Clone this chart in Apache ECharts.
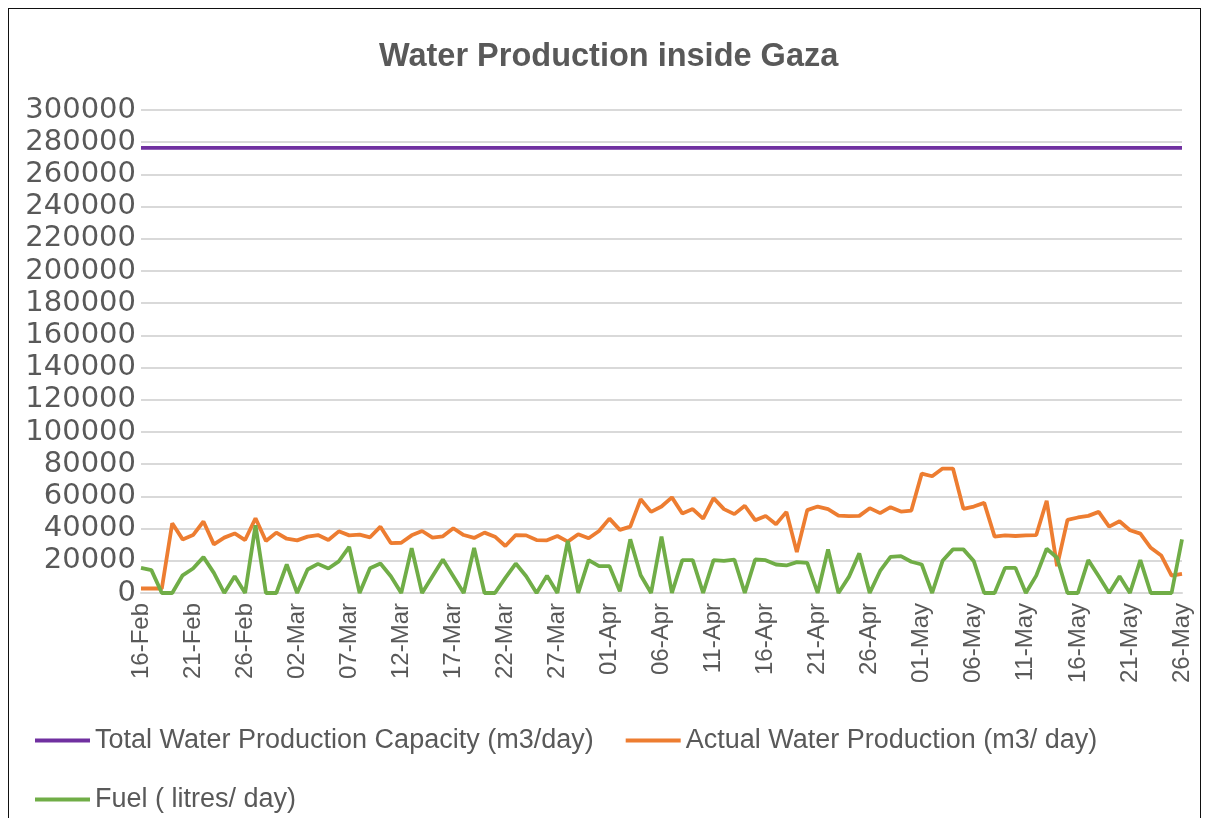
<!DOCTYPE html>
<html>
<head>
<meta charset="utf-8">
<script src="https://cdn.jsdelivr.net/npm/echarts@6/dist/echarts.min.js"></script>
<style>
html,body{margin:0;padding:0;background:#fff;}
#chart{position:absolute;left:0;top:0;width:1205px;height:818px;}
#frame{position:absolute;left:8px;top:8px;width:1191px;height:820px;border:1.5px solid #111;border-bottom:none;pointer-events:none;}
</style>
</head>
<body>
<div id="chart"></div>
<div id="frame"></div>
<script>
const dates = [
"16-Feb","17-Feb","18-Feb","19-Feb","20-Feb","21-Feb","22-Feb","23-Feb","24-Feb","25-Feb",
"26-Feb","27-Feb","28-Feb","29-Feb","01-Mar","02-Mar","03-Mar","04-Mar","05-Mar","06-Mar",
"07-Mar","08-Mar","09-Mar","10-Mar","11-Mar","12-Mar","13-Mar","14-Mar","15-Mar","16-Mar",
"17-Mar","18-Mar","19-Mar","20-Mar","21-Mar","22-Mar","23-Mar","24-Mar","25-Mar","26-Mar",
"27-Mar","28-Mar","29-Mar","30-Mar","31-Mar","01-Apr","02-Apr","03-Apr","04-Apr","05-Apr",
"06-Apr","07-Apr","08-Apr","09-Apr","10-Apr","11-Apr","12-Apr","13-Apr","14-Apr","15-Apr",
"16-Apr","17-Apr","18-Apr","19-Apr","20-Apr","21-Apr","22-Apr","23-Apr","24-Apr","25-Apr",
"26-Apr","27-Apr","28-Apr","29-Apr","30-Apr","01-May","02-May","03-May","04-May","05-May",
"06-May","07-May","08-May","09-May","10-May","11-May","12-May","13-May","14-May","15-May",
"16-May","17-May","18-May","19-May","20-May","21-May","22-May","23-May","24-May","25-May",
"26-May"];

const capacity = [
276500,276500,276500,276500,276500,276500,276500,276500,276500,276500,
276500,276500,276500,276500,276500,276500,276500,276500,276500,276500,
276500,276500,276500,276500,276500,276500,276500,276500,276500,276500,
276500,276500,276500,276500,276500,276500,276500,276500,276500,276500,
276500,276500,276500,276500,276500,276500,276500,276500,276500,276500,
276500,276500,276500,276500,276500,276500,276500,276500,276500,276500,
276500,276500,276500,276500,276500,276500,276500,276500,276500,276500,
276500,276500,276500,276500,276500,276500,276500,276500,276500,276500,
276500,276500,276500,276500,276500,276500,276500,276500,276500,276500,
276500,276500,276500,276500,276500,276500,276500,276500,276500,276500,
276500];

const actual = [
2800,2800,2800,43300,33300,36000,44400,30200,34400,37000,
32900,46400,32300,37500,33700,32700,35000,36000,32900,38300,
35800,36200,34600,41200,31000,31200,35800,38500,34400,35200,
40200,36000,34200,37500,35000,29200,36000,35800,32900,32700,
35400,31900,36500,34000,38500,46200,39200,41200,58300,50400,
53700,59400,49400,52100,46200,58900,52100,49000,54200,45200,
47900,42700,50400,25400,51500,53700,52100,48100,47700,47900,
52700,49600,53300,50600,51200,74200,72500,77300,77300,52300,
53700,56000,35000,35800,35400,35800,36000,57300,16700,45400,
46900,47900,50400,41200,44600,39000,36900,28100,23300,10800,
11900];

const fuel = [
15600,14200,0,0,11000,15200,22300,12500,0,10400,
0,42000,0,0,17700,0,14600,18100,15200,19600,
28700,0,15400,18300,10400,0,27900,0,10400,20800,
10400,0,28000,0,0,9400,18300,10400,0,10800,
0,32300,0,20400,16700,16700,1000,33300,11000,0,
35000,0,20400,20400,0,20400,20000,20800,0,20800,
20400,17700,17100,19200,18700,0,27100,0,10000,24600,
0,13700,22500,22900,19400,17700,0,20000,27100,27100,
19800,0,0,15600,15600,0,10800,27500,21900,0,
0,20400,10400,0,10400,0,20400,0,0,0,
33300];

const seriesNames = [
"Total Water Production Capacity (m3/day)",
"Actual Water Production (m3/ day)",
"Fuel ( litres/ day)"];

const FONT = '"Liberation Sans", Arial, sans-serif';
const YFONT = '"DejaVu Sans", "Liberation Sans", sans-serif';
const TXT = '#595959';

const chart = echarts.init(document.getElementById('chart'), null, {renderer:'canvas'});
chart.setOption({
  animation: false,
  backgroundColor: 'transparent',
  title: {
    text: 'Water Production inside Gaza',
    left: 374,
    top: 36,
    textStyle: {fontFamily: FONT, fontSize: 32.5, fontWeight: 'bold', color: TXT}
  },
  legend: {
    left: 30,
    top: 722,
    width: 1140,
    padding: 5,
    icon: 'rect',
    itemWidth: 55,
    itemHeight: 4,
    itemGap: 32,
    textStyle: {fontFamily: FONT, fontSize: 27, color: TXT, lineHeight: 27},
    data: seriesNames
  },
  grid: {left: 141, right: 23, top: 110, bottom: 225, containLabel: false},
  xAxis: {
    type: 'category',
    data: dates,
    boundaryGap: false,
    axisLine: {lineStyle: {color: '#d9d9d9', width: 2}},
    axisTick: {show: false},
    axisLabel: {
      interval: 4,
      rotate: 90,
      margin: 10,
      fontFamily: FONT,
      fontSize: 24,
      color: TXT
    },
    splitLine: {show: false}
  },
  yAxis: {
    type: 'value',
    min: 0,
    max: 300000,
    interval: 20000,
    axisLine: {show: false},
    axisTick: {show: false},
    axisLabel: {margin: 5, fontFamily: YFONT, fontSize: 29, color: TXT,
      formatter: function (v) { return String(v); }},
    splitLine: {lineStyle: {color: '#d9d9d9', width: 2}}
  },
  series: [
    {name: seriesNames[0], type: 'line', data: capacity, showSymbol: false,
     lineStyle: {color: '#7030A0', width: 3.8}, itemStyle: {color: '#7030A0'}},
    {name: seriesNames[1], type: 'line', data: actual, showSymbol: false,
     lineStyle: {color: '#ED7D31', width: 3.8}, itemStyle: {color: '#ED7D31'}},
    {name: seriesNames[2], type: 'line', data: fuel, showSymbol: false,
     lineStyle: {color: '#70AD47', width: 3.8}, itemStyle: {color: '#70AD47'}}
  ]
});
</script>
</body>
</html>
